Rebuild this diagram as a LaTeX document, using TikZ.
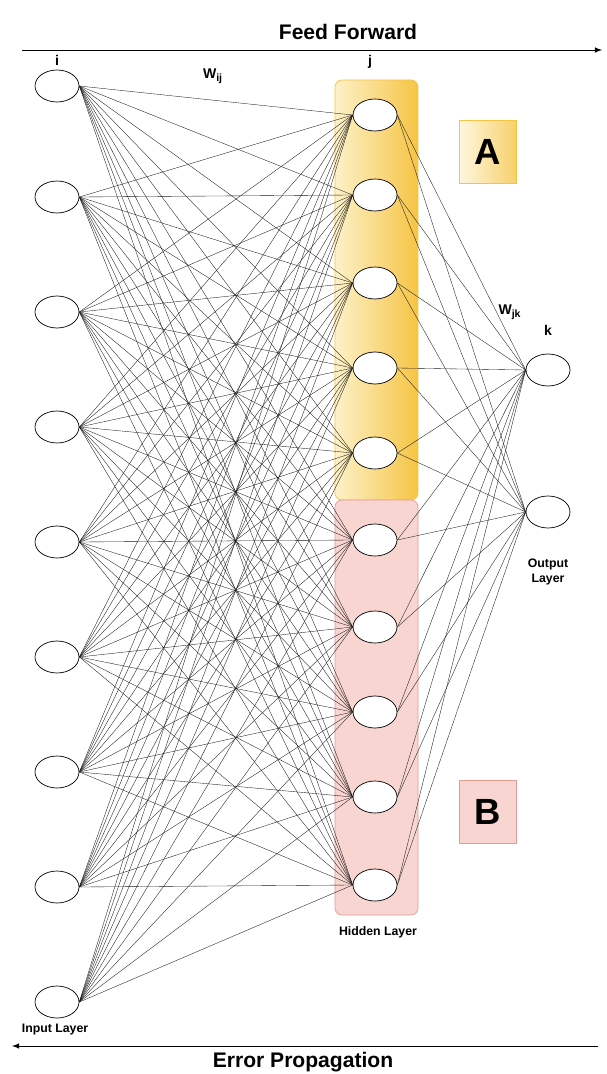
\documentclass[tikz,border=0pt]{standalone}
\usepackage{fontspec}
\setmainfont{Liberation Sans}
\usetikzlibrary{positioning,shapes.geometric,backgrounds}
\definecolor{goldA}{HTML}{F6C445}
\definecolor{paleA}{HTML}{FDF1C8}
\definecolor{pinkB}{HTML}{F8D5D0}
\definecolor{edgeB}{HTML}{E59C94}
\tikzset{
  neuron/.style={draw,thin,ellipse,minimum width=0.88cm,minimum height=0.64cm,fill=white,inner sep=0pt},
  lbl/.style={font=\bfseries\footnotesize},
  wire/.style={draw,very thin,black!90}
}
\begin{document}
\begin{tikzpicture}[x=0.02cm,y=-0.02cm]
  \useasboundingbox (0,0) rectangle (606,1074);
  % groups
  \node[draw=goldA,left color=paleA!60,right color=goldA!80,minimum width=1.14cm,minimum height=1.26cm,font=\bfseries\huge] (boxA) at (488,152) {A};
  \node[draw=edgeB,fill=pinkB,minimum width=1.14cm,minimum height=1.26cm,font=\bfseries\huge] (boxB) at (488,812) {B};
  % layers
  \foreach \y [count=\n] in {86,197,312,427,542,657,772,887,1002}
    \node[neuron] (in\n) at (57,\y) {};
  \foreach \y [count=\n] in {115,195,283,368,453,540,627,712,797,885}
    \node[neuron] (h\n) at (375,\y) {};
  \node[neuron] (out1) at (548,370) {};
  \node[neuron] (out2) at (548,512) {};
  % connections
  \begin{pgfonlayer}{background}
  \draw[rounded corners=4pt,draw=goldA,left color=paleA,right color=goldA] (335,80) rectangle (418,500);
  \draw[rounded corners=4pt,draw=edgeB,fill=pinkB] (335,500) rectangle (418,915);
  \foreach \a in {1,...,9}
    \foreach \b in {1,...,10}
      \draw[wire] (in\a.east) -- (h\b.west);
  \foreach \b in {1,...,10}
    \foreach \c in {1,2}
      \draw[wire] (h\b.east) -- (out\c.west);
  \end{pgfonlayer}
  % labels
  \node[lbl] (li) at (57,60) {i};
  \node[lbl] (lj) at (370,62) {j};
  \node[lbl] (lk) at (548,330) {k};
  \node[lbl] (wij) at (213,76) {W\textsubscript{ij}};
  \node[lbl] (wjk) at (510,312) {W\textsubscript{jk}};
  \node[lbl,align=center,font=\bfseries\scriptsize] (outlbl) at (548,572) {Output\\Layer};
  \node[lbl,font=\bfseries\scriptsize] (hidlbl) at (378,932) {Hidden Layer};
  \node[lbl,font=\bfseries\scriptsize] (inlbl) at (55,1030) {Input Layer};
  % directions
  \coordinate (ffL) at (22,50);
  \coordinate (ffR) at (602,50);
  \coordinate (epL) at (12,1046);
  \coordinate (epR) at (598,1046);
  \draw[-latex] (ffL) -- (ffR);
  \draw[-latex] (epR) -- (epL);
  \node[font=\bfseries\large] (ff) at (348,32) {Feed Forward};
  \node[font=\bfseries\large] (ep) at (303,1062) {Error Propagation};
\end{tikzpicture}
\end{document}
